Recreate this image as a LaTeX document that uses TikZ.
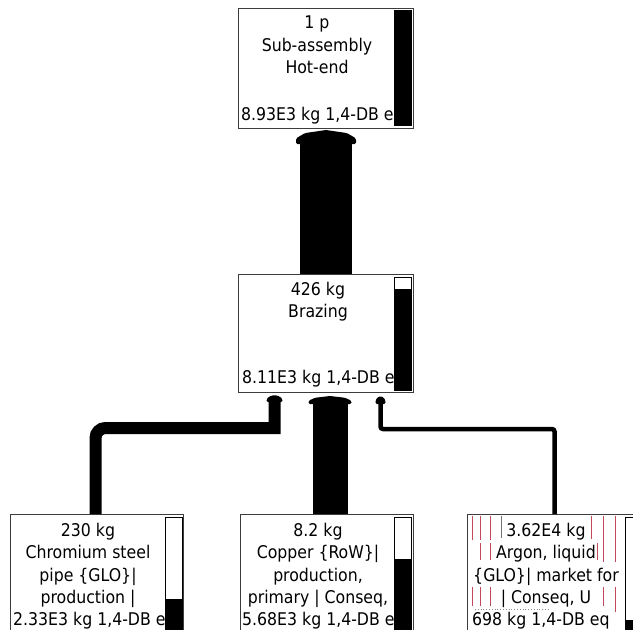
\documentclass[tikz,border=0pt]{standalone}
\usepackage{fontspec}
\setmainfont{DejaVu Sans Condensed}
\usetikzlibrary{calc}
\definecolor{boxline}{RGB}{60,60,60}
\definecolor{ghost}{RGB}{196,72,92}
\tikzset{
  procbox/.style={draw=boxline, line width=1pt, fill=white, anchor=north west, inner sep=0pt},
  boxtext/.style={anchor=north, inner sep=0pt, align=center, font=\fontsize{17.5}{22.3}\selectfont},
  scoretext/.style={anchor=base west, inner sep=0pt, font=\fontsize{17.5}{22.3}\selectfont},
  flow/.style={draw=black, line cap=butt},
  headfill/.style={fill=black, rounded corners=1.5pt},
  scorebar/.style={draw=black, line width=0.8pt, fill=white},
  ghostline/.style={draw=ghost, line width=0.8pt},
}
% arrow head of a flow: tip coordinate, half width, height
\newcommand\flowhead[3]{%
  \fill[headfill] ($(#1)+(-#2,#3)$) -- ($(#1)+(-#2,0.6*#3)$) -- ($(#1)+(-0.7*#2,0.22*#3)$)
    -- (#1) -- ($(#1)+(0.7*#2,0.22*#3)$) -- ($(#1)+(#2,0.6*#3)$) -- ($(#1)+(#2,#3)$) -- cycle;}
% score bar: left, top, right, bottom, top of the black part
\newcommand\scorebar[5]{%
  \draw[scorebar] (#1,#2) rectangle (#3,#4);
  \fill[black] (#1,#5) rectangle (#3,#4);
  \draw[black, line width=0.8pt] (#1,#2) rectangle (#3,#4);}
\begin{document}
\begin{tikzpicture}[x=1pt,y=-1pt]
\useasboundingbox (0,0) rectangle (633,630);

% process boxes
\node[procbox, minimum width=175pt, minimum height=120pt] (hot) at (238,8) {};
\node[procbox, minimum width=175pt, minimum height=118pt] (braz) at (238,274) {};
\node[procbox, minimum width=173pt, minimum height=130pt] (chrom) at (10,514) {};
\node[procbox, minimum width=173pt, minimum height=130pt] (copper) at (240,514) {};
\node[procbox, minimum width=176pt, minimum height=130pt] (argon) at (467,514) {};

% flows
\draw[flow, line width=52pt] (braz.north) -- ($(hot.south)+(0,13)$);
\coordinate (tipHot) at ($(hot.south)+(0,1)$);
\flowhead{tipHot}{30}{14}

\draw[flow, line width=35pt] ($(copper.north)+(3,0)$) -- ($(braz.south)+(4,9)$);
\coordinate (tipCopper) at ($(braz.south)+(4,3)$);
\flowhead{tipCopper}{21.5}{8}

% chromium flow: rounded bend at the bottom, square bend under the brazing box
\coordinate (bendChrom) at ($(braz.south)+(-51.5,35)$);
\draw[flow, line width=12pt]
  ($(chrom.north)+(-1.5,0)$) [rounded corners=10pt] |- ($(bendChrom)+(6,0)$)
  [sharp corners] ($(bendChrom)+(0,6)$) -- ($(braz.south)+(-51.5,8)$);
\coordinate (tipChrom) at ($(braz.south)+(-51.5,2)$);
\flowhead{tipChrom}{8}{7}

\draw[flow, line width=4.5pt, rounded corners=2.5pt] ($(argon.north)+(-1,0)$) |- ($(braz.south)+(54.5,36)$) -- ($(braz.south)+(54.5,9)$);
\coordinate (tipArgon) at ($(braz.south)+(54.5,3)$);
\flowhead{tipArgon}{5}{8}

% stray red rules inside the argon box
\draw[ghostline] (472,516) -- (472,540) (472,587) -- (472,606);
\draw[ghostline] (480,516) -- (480,540) (480,543) -- (480,560) (480,587) -- (480,606);
\draw[ghostline] (490,516) -- (490,540) (490,543) -- (490,560) (490,587) -- (490,606);
\draw[draw=black!55, line width=0.8pt] (501,516) -- (501,538);
\draw[ghostline] (591,516) -- (591,539);
\draw[ghostline] (597,543) -- (597,560);
\draw[ghostline] (603,516) -- (603,562) (603,587) -- (603,606);
\draw[ghostline] (615,516) -- (615,562) (615,587) -- (615,612);
\draw[black!45, line width=0.8pt, dotted] (475,609) -- (548,609);

% labels
\node[boxtext] (hotlbl) at (317,16) {1 p\\Sub-assembly\\Hot-end};
\node[scoretext] (hotscore) at (241,120) {8.93E3 kg 1,4-DB e};
\node[boxtext] (brazlbl) at (318,282) {426 kg\\Brazing};
\node[scoretext] (brazscore) at (242,383) {8.11E3 kg 1,4-DB e};
\node[boxtext] (chromlbl) at (88,523) {230 kg\\Chromium steel\\pipe \{GLO\}|\\production |};
\node[scoretext] (chromscore) at (13,625) {2.33E3 kg 1,4-DB e};
\node[boxtext] (copperlbl) at (318,523) {8.2 kg\\Copper \{RoW\}|\\production,\\primary | Conseq,};
\node[scoretext] (copperscore) at (242,625) {5.68E3 kg 1,4-DB e};
\node[boxtext] (argonlbl) at (546,523) {3.62E4 kg\\Argon, liquid\\\{GLO\}| market for\\| Conseq, U};
\node[scoretext] (argonscore) at (472,625) {698 kg 1,4-DB eq};

% score bars
\scorebar{394}{10}{411}{125}{10}
\scorebar{394}{277}{411}{390}{289}
\scorebar{165}{517}{182}{640}{599}
\scorebar{394}{517}{411}{640}{559}
\scorebar{625}{517}{642}{640}{620}
\end{tikzpicture}
\end{document}
